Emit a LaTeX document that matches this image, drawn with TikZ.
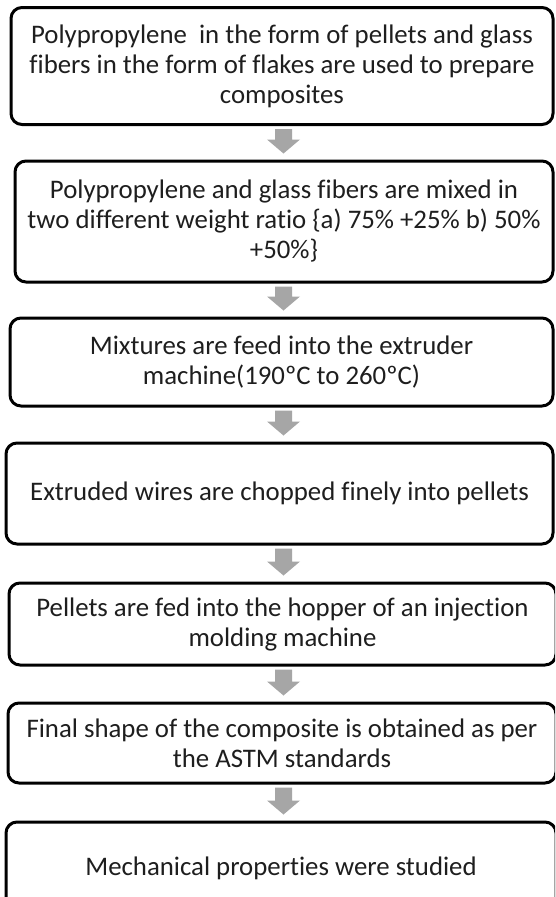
\documentclass[tikz,border=0pt]{standalone}
\usepackage{fontspec}
\setmainfont[Ligatures=NoCommon]{Carlito}
\usetikzlibrary{calc}
\definecolor{arrowgray}{HTML}{A6A6A6}
\definecolor{textcol}{HTML}{1E1E1E}
\tikzset{
  stepbox/.style={draw=black, line width=3pt, rounded corners=11pt, align=center,
    inner sep=0pt, text=textcol, font=\fontsize{26.8}{30}\selectfont},
  blockarrow/.style={to path={let \p1=(\tikztostart), \p2=(\tikztotarget) in
    (\x1-8.5pt,\y1-3pt) -- (\x1+8.5pt,\y1-3pt) -- (\x1+8.5pt,\y2+20pt) -- (\x1+16.5pt,\y2+20pt)
    -- (\x1,\y2+6pt) -- (\x1-16.5pt,\y2+20pt) -- (\x1-8.5pt,\y2+20pt) -- cycle}},
  arrowfill/.style={fill=arrowgray, draw=none}
}
\begin{document}
\begin{tikzpicture}[x=1pt,y=-1pt]
\clip (0,0) rectangle (555,897);
\fill[white] (0,0) rectangle (555,897);
\coordinate (ax) at (283.5,0);
\node[stepbox, minimum width=542pt, minimum height=117pt] (b1) at (282,66)
  {Polypropylene\ \ in the form of pellets and glass\\fibers in the form of flakes are used to prepare\\composites};
\node[stepbox, minimum width=538pt, minimum height=121pt] (b2) at (284,221.5)
  {Polypropylene and glass fibers are mixed in\\two different weight ratio \{a) 75\% +25\% b) 50\%\\+50\%\}};
\node[stepbox, minimum width=543pt, minimum height=88pt] (b3) at (281.5,362)
  {Mixtures are feed into the extruder\\machine(190ºC to 260ºC)};
\node[stepbox, minimum width=547pt, minimum height=101pt] (b4) at (279.5,493.5)
  {Extruded wires are chopped finely into pellets};
\node[stepbox, minimum width=547pt, minimum height=82pt] (b5) at (282.5,624)
  {Pellets are fed into the hopper of an injection\\molding machine};
\node[stepbox, minimum width=548pt, minimum height=80pt] (b6) at (282,743)
  {Final shape of the composite is obtained as per\\the ASTM standards};
\node[stepbox, minimum width=550pt, minimum height=92pt] (b7) at (281,868)
  {Mechanical properties were studied};
\fill[arrowfill] (b1.south -| ax) to[blockarrow] (b2.north -| ax);
\fill[arrowfill] (b2.south -| ax) to[blockarrow] (b3.north -| ax);
\fill[arrowfill] (b3.south -| ax) to[blockarrow] (b4.north -| ax);
\fill[arrowfill] (b4.south -| ax) to[blockarrow] (b5.north -| ax);
\fill[arrowfill] (b5.south -| ax) to[blockarrow] (b6.north -| ax);
\fill[arrowfill] (b6.south -| ax) to[blockarrow] (b7.north -| ax);
\end{tikzpicture}
\end{document}
